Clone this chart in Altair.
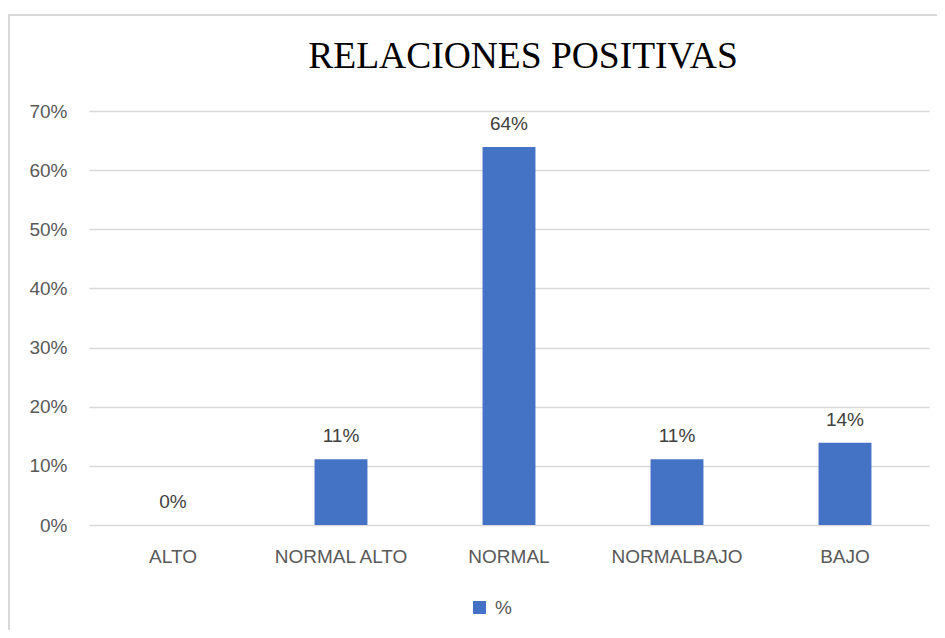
import altair as alt
import pandas as pd

# ---- data ----
categories = ["ALTO", "NORMAL ALTO", "NORMAL", "NORMALBAJO", "BAJO"]
values = [0.0, 0.111, 0.639, 0.111, 0.139]
series_name = "%"
y_ticks = [0.0, 0.1, 0.2, 0.3, 0.4, 0.5, 0.6, 0.7]
title_text = "RELACIONES POSITIVAS"

df = pd.DataFrame({"cat": categories, "val": values, "serie": [series_name] * len(categories)})

W, H = 840, 414
SANS = "Liberation Sans"
SERIF = "Liberation Serif"
GRAY = "#595959"
BLUE = "#4472C4"
GRID = "#d9d9d9"

x_enc = alt.X(
    "cat:N",
    sort=categories,
    scale=alt.Scale(paddingInner=0.685, paddingOuter=0.3425),
    axis=alt.Axis(
        title=None, labelAngle=0, ticks=False, domain=False, grid=False,
        labelFont=SANS, labelFontSize=19, labelColor=GRAY, labelPadding=22,
    ),
)
y_enc = alt.Y(
    "val:Q",
    scale=alt.Scale(domain=[0, 0.7]),
    axis=alt.Axis(
        values=y_ticks, format=".0%", title=None, domain=False, ticks=False,
        labelFont=SANS, labelFontSize=19, labelColor=GRAY, labelPadding=22,
        gridColor=GRID, gridWidth=1.3,
    ),
)

base = alt.Chart(df)

bars = base.mark_bar().encode(
    x=x_enc,
    y=y_enc,
    color=alt.Color(
        "serie:N",
        scale=alt.Scale(range=[BLUE]),
        legend=alt.Legend(
            title=None, orient="none", legendX=381, legendY=487,
            symbolType="square", symbolSize=169, symbolStrokeWidth=0,
            labelFont=SANS, labelFontSize=19, labelColor=GRAY, labelOffset=6,
        ),
    ),
)

labels = base.mark_text(
    dy=-17, baseline="alphabetic", font=SANS, fontSize=19, color="#404040"
).encode(
    x=alt.X("cat:N", sort=categories),
    y="val:Q",
    text=alt.Text("val:Q", format=".0%"),
)

title = alt.Chart(alt.Data(values=[{"t": title_text}])).mark_text(
    font=SERIF, fontSize=37.5, color="#000000", align="center", baseline="alphabetic"
).encode(
    x=alt.value(434), y=alt.value(-43), text="t:N"
)

frame = alt.Chart(alt.Data(values=[{"a": 1}])).mark_rect(
    fillOpacity=0, stroke=GRID, strokeWidth=2
).encode(
    x=alt.value(-80), x2=alt.value(920), y=alt.value(-96), y2=alt.value(620)
)

chart = alt.layer(frame, bars, labels, title).properties(
    width=W,
    height=H,
    autosize=alt.AutoSizeParams(type="none"),
    padding={"left": 81, "top": 103, "right": 8, "bottom": 105},
).configure_view(strokeWidth=0)

chart.save("out.html", embed_options={"renderer": "svg", "actions": False})
